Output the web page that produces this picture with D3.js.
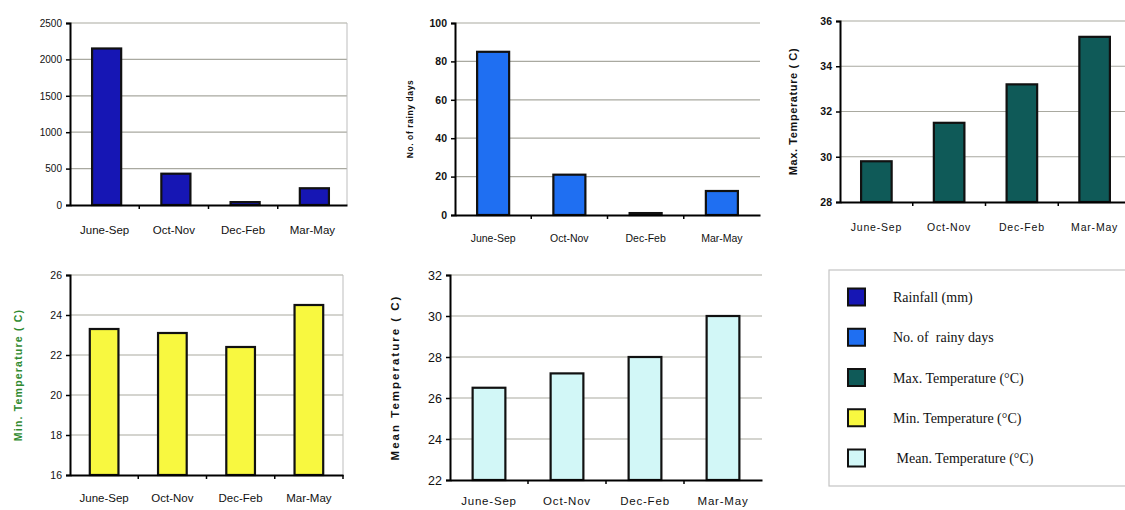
<!DOCTYPE html>
<html>
<head>
<meta charset="utf-8">
<script src="https://cdn.jsdelivr.net/npm/d3@7"></script>
<style>
  html, body { margin: 0; padding: 0; background: #fff; }
  svg { display: block; font-family: Arial, "Liberation Sans", sans-serif; }
</style>
</head>
<body>
<svg id="chart" width="1125" height="510"></svg>
<script>
// Seasonal climate summary
const seasons = ["June-Sep", "Oct-Nov", "Dec-Feb", "Mar-May"];

const rainfall = [2150, 430, 40, 230];
const rainyDays = [85, 21, 1, 12.5];
const maxTemp = [29.8, 31.5, 33.2, 35.3];
const minTemp = [23.3, 23.1, 22.4, 24.5];
const meanTemp = [26.5, 27.2, 28.0, 30.0];

const rainfallTicks = [0, 500, 1000, 1500, 2000, 2500];
const rainyTicks = [0, 20, 40, 60, 80, 100];
const maxTicks = [28, 30, 32, 34, 36];
const minTicks = [16, 18, 20, 22, 24, 26];
const meanTicks = [22, 24, 26, 28, 30, 32];

const legendLabels = [
  "Rainfall (mm)",
  "No. of  rainy days",
  "Max. Temperature (\u00B0C)",
  "Min. Temperature (\u00B0C)",
  " Mean. Temperature (\u00B0C)"
];

const colors = {
  rain: "#1616b4",
  days: "#1f6ff2",
  max: "#0f5a58",
  min: "#f8f840",
  mean: "#d2f7f7"
};

const svg = d3.select("#chart");

function panel(o) {
  const g = svg.append("g");
  const x = d3.scaleBand().domain(seasons).range([o.x0, o.x1]).padding(0);
  const y = d3.scaleLinear().domain([o.ticks[0], o.ticks[o.ticks.length - 1]]).range([o.yb, o.yt]);

  // horizontal gridlines
  g.append("g").selectAll("line").data(o.ticks.slice(1)).join("line")
    .attr("x1", o.x0).attr("x2", o.x1)
    .attr("y1", d => y(d)).attr("y2", d => y(d))
    .attr("stroke", "#a9a9a0").attr("stroke-width", 1.2);

  if (o.rightBorder) {
    g.append("line").attr("x1", o.x1).attr("x2", o.x1)
      .attr("y1", o.yt).attr("y2", o.yb)
      .attr("stroke", "#bdbdbd").attr("stroke-width", 1);
  }

  // bars
  const bw = x.bandwidth() * 0.42;
  g.append("g").selectAll("rect").data(o.values).join("rect")
    .attr("x", (d, i) => x(seasons[i]) + x.bandwidth() / 2 - bw / 2 + (o.shift || 0))
    .attr("y", d => y(d))
    .attr("width", bw)
    .attr("height", d => Math.max(0.5, y.range()[0] - y(d)))
    .attr("fill", o.color)
    .attr("stroke", "#111")
    .attr("stroke-width", 2.2);

  // y axis
  const ya = d3.axisLeft(y).tickValues(o.ticks).tickSize(4).tickPadding(4).tickFormat(d3.format("d"));
  const yg = g.append("g").attr("transform", `translate(${o.x0},0)`).call(ya);
  yg.attr("font-family", null);
  yg.select(".domain").attr("stroke", "#000").attr("stroke-width", 2);
  yg.selectAll(".tick line").attr("stroke", "#000").attr("stroke-width", 1.5);
  yg.selectAll(".tick text").attr("font-size", o.yFont).attr("fill", "#111")
    .attr("font-weight", o.yBold ? "bold" : "normal");

  // x axis
  const xa = d3.axisBottom(x).tickSize(0).tickPadding(0).tickFormat("");
  const xg = g.append("g").attr("transform", `translate(0,${o.yb})`).call(xa);
  xg.select(".domain").attr("stroke", "#000").attr("stroke-width", 2);
  // category separators
  g.append("g").selectAll("line").data(seasons.slice(1).concat(o.lastTick ? ["end"] : [])).join("line")
    .attr("x1", d => d === "end" ? o.x1 : x(d)).attr("x2", d => d === "end" ? o.x1 : x(d))
    .attr("y1", o.yb).attr("y2", o.yb + 4)
    .attr("stroke", "#000").attr("stroke-width", 1.5);

  // category labels
  g.append("g").selectAll("text").data(seasons).join("text")
    .attr("x", d => x(d) + x.bandwidth() / 2)
    .attr("y", o.labelY)
    .attr("text-anchor", "middle")
    .attr("font-size", o.xFont)
    .attr("letter-spacing", o.xSpacing || 0)
    .attr("fill", "#111")
    .text(d => d);

  if (o.title) {
    g.append("text")
      .attr("transform", `translate(${o.titleX},${(o.yt + o.yb) / 2}) rotate(-90)`)
      .attr("text-anchor", "middle")
      .attr("font-size", o.titleFont)
      .attr("font-weight", "bold")
      .attr("letter-spacing", o.titleSpacing || 0)
      .attr("fill", o.titleColor || "#111")
      .text(o.title);
  }
}

panel({ values: rainfall, ticks: rainfallTicks, color: colors.rain,
  x0: 70, x1: 347, yt: 23, yb: 205, labelY: 234, xFont: 11.5, yFont: 10,
  rightBorder: true, shift: 2 });

panel({ values: rainyDays, ticks: rainyTicks, color: colors.days,
  x0: 455, x1: 760, yt: 23, yb: 215, labelY: 242, xFont: 10.5, yFont: 10.5, yBold: true,
  title: "No. of rainy days", titleX: 413, titleFont: 8.5, titleSpacing: 0.6 });

panel({ values: maxTemp, ticks: maxTicks, color: colors.max,
  x0: 840, x1: 1131, yt: 21, yb: 202, labelY: 231, xFont: 10.5, xSpacing: 0.8, yFont: 10.5, yBold: true,
  title: "Max. Temperature ( C)", titleX: 797, titleFont: 11, titleSpacing: 0.6 });

panel({ values: minTemp, ticks: minTicks, color: colors.min,
  x0: 70, x1: 343, yt: 275, yb: 475, labelY: 502, xFont: 11.5, yFont: 10.5,
  rightBorder: true, lastTick: true,
  title: "Min. Temperature ( C)", titleX: 22, titleFont: 10.5, titleSpacing: 1.2, titleColor: "#2f8a2f" });

panel({ values: meanTemp, ticks: meanTicks, color: colors.mean,
  x0: 450, x1: 762, yt: 275, yb: 480, labelY: 505, xFont: 11.5, xSpacing: 0.8, yFont: 12.5,
  title: "Mean Temperature ( C)", titleX: 399, titleFont: 11.5, titleSpacing: 2 });

// legend
const lg = svg.append("g");
lg.append("rect").attr("x", 829).attr("y", 270).attr("width", 310).attr("height", 216)
  .attr("fill", "#fff").attr("stroke", "#c4c4c4").attr("stroke-width", 1.2);
const legendColors = [colors.rain, colors.days, colors.max, colors.min, colors.mean];
const rowY = d3.scalePoint().domain(d3.range(legendLabels.length)).range([297, 458]);
const rows = lg.selectAll("g.row").data(legendLabels).join("g").attr("class", "row")
  .attr("transform", (d, i) => `translate(0,${rowY(i)})`);
rows.append("rect").attr("x", 848).attr("y", -8.5).attr("width", 17).attr("height", 17)
  .attr("fill", (d, i) => legendColors[i]).attr("stroke", "#111").attr("stroke-width", 2);
rows.append("text").attr("x", 893).attr("y", 5)
  .style("font-family", "'Liberation Serif', 'Times New Roman', serif")
  .attr("font-size", 14).attr("fill", "#111")
  .style("white-space", "pre")
  .text(d => d);
</script>
</body>
</html>
